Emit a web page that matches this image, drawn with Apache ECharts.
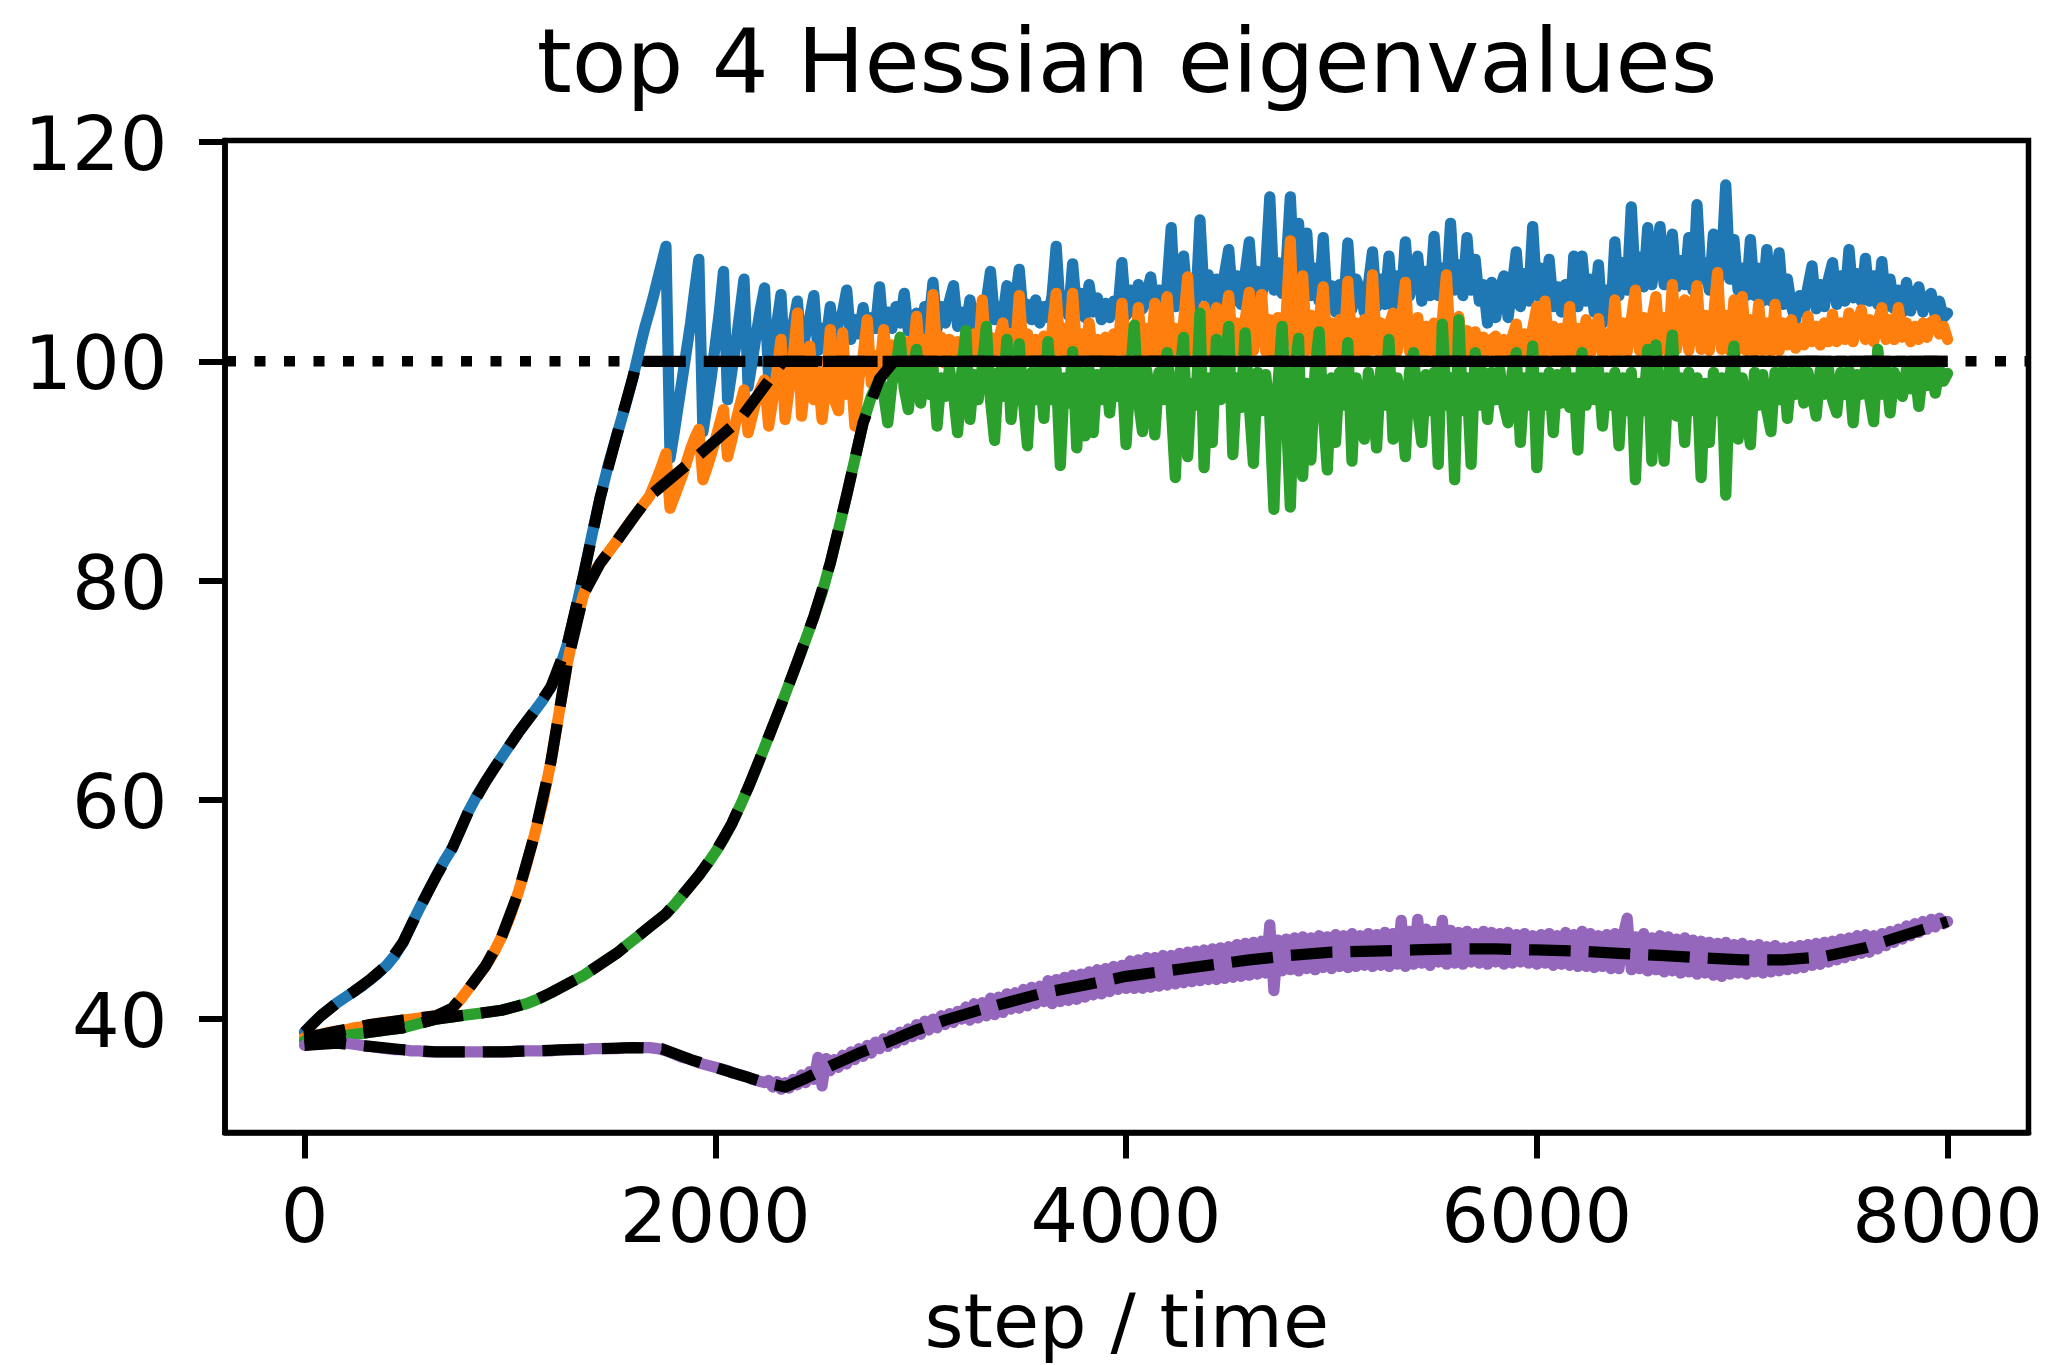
<!DOCTYPE html>
<html>
<head>
<meta charset="utf-8">
<script src="https://cdn.jsdelivr.net/npm/echarts@6/dist/echarts.min.js"></script>
<style>
  html, body { margin: 0; padding: 0; background: #ffffff; }
  #chart { width: 2049px; height: 1365px; }
</style>
</head>
<body>
<div id="chart"></div>
<script>
// Each eigenvalue trace is stored as a smooth "head" sampled every 40 steps from step 0,
// followed by a "tail" sampled every 20 steps once the trace starts to oscillate.
const HEAD_STEP = 40;
const TAIL_STEP = 20;

// Largest eigenvalue: head 0..1600, tail 1620..8000 (rows of 20 samples = 400 steps)
const lambda1Head = [
  38.8, 39.6, 40.3, 40.9, 41.5, 42.0, 42.5, 43.0, 43.6, 44.2,
  44.9, 45.8, 47.0, 48.6, 50.1, 51.6, 53.0, 54.4, 55.6, 57.3,
  59.0, 60.4, 61.6, 62.8, 63.9, 65.0, 66.1, 67.1, 68.1, 69.1,
  70.3, 71.9, 74.2, 77.3, 80.6, 84.2, 87.6, 90.6, 93.2, 95.8,
  98.6
];
const lambda1Tail = [
  100.2, 101.8, 103.3, 104.6, 106.0, 107.5, 109.0, 110.5, 91.2, 93.5, 96.0, 98.5, 101.0, 103.5, 106.5, 109.3, 93.6, 96.0, 98.5, 101.5,
  104.5, 108.2, 96.5, 99.0, 101.5, 104.5, 107.5, 97.7, 100.0, 102.5, 104.8, 106.7, 98.5, 101.0, 103.5, 106.1, 99.3, 101.5, 103.5, 105.5,
  100.5, 102.5, 104.0, 106.0, 101.0, 103.0, 102.0, 105.0, 101.5, 103.5, 104.5, 106.5, 102.0, 103.8, 102.5, 104.9, 102.0, 104.0, 103.0, 106.8,
  102.5, 104.5, 103.0, 105.0, 103.5, 106.2, 102.8, 104.0, 104.4, 102.5, 105.0, 103.5, 107.2, 103.0, 105.0, 103.5, 105.5, 106.9, 103.2, 104.5,
  103.0, 105.6, 103.2, 104.8, 103.5, 105.5, 108.2, 103.8, 105.0, 104.0, 106.9, 103.5, 105.5, 108.4, 104.0, 105.2, 103.8, 105.6, 103.5, 105.0,
  104.0, 106.0, 110.5, 104.5, 106.0, 104.2, 108.9, 104.5, 106.2, 104.0, 107.0, 104.5, 105.8, 103.8, 105.3, 104.0, 105.5, 104.5, 109.0, 104.2,
  106.5, 104.5, 107.0, 104.8, 106.0, 107.7, 104.5, 106.5, 105.0, 107.0, 112.2, 105.0, 107.5, 109.6, 105.5, 107.0, 105.2, 112.9, 106.0, 107.9,
  105.0, 107.5, 105.5, 108.0, 110.2, 105.5, 107.8, 105.2, 108.0, 110.9, 105.8, 108.2, 106.0, 108.5, 115.0, 106.5, 109.0, 106.2, 108.8, 115.0,
  107.0, 112.6, 106.5, 111.7, 106.0, 108.5, 105.5, 111.3, 105.0, 106.9, 104.5, 107.0, 105.0, 110.8, 104.8, 107.5, 106.5, 104.5, 107.0, 110.0,
  105.0, 107.5, 105.2, 109.6, 105.0, 107.8, 105.5, 110.9, 106.0, 108.0, 109.6, 105.5, 108.2, 106.0, 111.4, 106.0, 108.5, 106.2, 112.6, 106.5,
  108.8, 106.0, 111.3, 106.5, 109.3, 105.5, 107.0, 103.5, 107.2, 104.0, 106.5, 107.8, 104.0, 106.8, 110.0, 105.0, 108.0, 105.5, 112.3, 106.0,
  108.5, 105.5, 109.3, 105.0, 106.8, 104.5, 107.0, 103.4, 109.6, 105.0, 109.6, 105.5, 107.5, 104.5, 108.8, 103.5, 106.5, 104.0, 110.9, 106.0,
  109.0, 106.5, 114.1, 107.0, 109.5, 106.8, 112.2, 107.0, 109.5, 112.3, 107.0, 109.0, 111.6, 106.8, 109.2, 107.0, 111.3, 106.5, 114.3, 107.5,
  109.0, 106.5, 111.6, 107.0, 109.0, 116.1, 107.5, 111.1, 106.5, 108.5, 106.0, 111.1, 106.0, 108.5, 105.5, 110.2, 105.5, 107.5, 109.9, 105.2,
  107.5, 105.0, 103.8, 106.0, 104.5, 106.8, 108.7, 104.8, 107.0, 105.0, 107.5, 109.0, 105.2, 107.8, 105.5, 110.2, 105.8, 108.0, 105.5, 109.4,
  105.5, 107.8, 105.2, 109.1, 105.0, 107.5, 104.8, 106.5, 104.5, 107.2, 104.6, 106.0, 106.8, 104.5, 105.8, 106.2, 104.2, 105.5, 104.0, 104.4
];

// Second eigenvalue: head 0..1600, tail 1620..8000
const lambda2Head = [
  38.3, 38.5, 38.6, 38.8, 38.9, 39.0, 39.2, 39.3, 39.5, 39.6,
  39.7, 39.8, 39.9, 40.0, 40.1, 40.2, 40.3, 40.5, 41.0, 41.8,
  42.8, 43.8, 44.8, 46.0, 47.5, 49.3, 51.5, 54.0, 56.8, 59.8,
  63.5, 68.0, 72.5, 76.0, 78.8, 80.5, 81.6, 82.6, 83.6, 84.7,
  85.7
];
const lambda2Tail = [
  86.2, 86.7, 87.2, 87.7, 88.6, 89.5, 90.5, 91.6, 86.6, 87.6, 88.6, 89.6, 90.8, 92.0, 93.0, 93.8, 89.2, 90.3, 91.5, 92.8,
  94.2, 95.6, 91.3, 92.8, 94.5, 96.0, 97.4, 93.5, 95.0, 96.5, 97.5, 98.3, 94.1, 96.5, 99.0, 102.0, 94.7, 97.5, 100.5, 104.4,
  95.0, 98.5, 101.4, 96.5, 99.0, 94.7, 98.0, 102.9, 96.5, 95.5, 102.6, 97.0, 99.5, 94.1, 98.5, 100.5, 103.8, 98.0, 100.5, 99.0,
  102.9, 99.5, 101.5, 100.0, 102.0, 99.6, 101.8, 100.2, 104.1, 99.8, 102.0, 100.0, 106.1, 100.2, 102.2, 99.8, 102.0, 100.5, 101.8, 99.8,
  102.0, 100.0, 102.5, 100.2, 105.6, 100.0, 102.2, 100.5, 102.0, 103.5, 100.0, 102.5, 100.3, 106.0, 100.5, 102.5, 100.2, 102.0, 100.0, 102.3,
  100.2, 102.8, 106.2, 100.5, 103.0, 100.5, 106.2, 100.8, 102.5, 100.5, 103.5, 100.2, 102.0, 100.0, 102.2, 100.5, 102.5, 100.8, 105.3, 100.5,
  102.8, 100.5, 104.9, 100.8, 103.0, 100.6, 105.3, 100.9, 103.2, 105.9, 100.8, 103.0, 100.6, 103.5, 107.7, 100.8, 103.0, 100.9, 105.0, 100.7,
  103.2, 104.9, 100.8, 103.5, 106.0, 100.9, 103.5, 100.7, 103.8, 106.3, 101.0, 103.5, 106.1, 100.9, 103.8, 100.8, 104.0, 101.0, 104.2, 111.0,
  100.8, 104.0, 107.8, 101.0, 104.2, 100.8, 103.8, 106.8, 100.8, 103.5, 100.6, 103.8, 100.7, 107.3, 100.9, 103.5, 100.7, 103.8, 100.9, 107.9,
  101.0, 103.5, 100.7, 103.2, 104.4, 100.9, 103.5, 107.2, 100.9, 103.0, 104.0, 100.7, 103.2, 100.6, 103.5, 100.9, 103.8, 107.9, 100.9, 103.5,
  104.1, 100.7, 102.8, 100.5, 102.7, 100.4, 102.2, 100.6, 102.0, 102.3, 100.4, 102.0, 100.6, 102.2, 103.4, 100.6, 102.5, 100.7, 103.0, 105.0,
  100.7, 105.5, 100.8, 103.2, 100.6, 103.0, 100.8, 105.0, 100.9, 103.0, 100.8, 103.8, 100.6, 102.8, 103.9, 100.5, 102.5, 100.7, 105.6, 100.9,
  103.5, 100.9, 103.8, 106.5, 101.0, 104.0, 100.9, 103.8, 105.9, 101.0, 104.0, 100.9, 107.0, 101.1, 104.0, 105.6, 101.0, 104.0, 106.9, 101.1,
  104.2, 101.0, 104.0, 108.1, 101.1, 104.2, 101.0, 105.6, 101.1, 105.9, 101.0, 103.8, 100.9, 105.2, 101.0, 103.5, 100.9, 105.2, 101.0, 103.5,
  101.5, 103.8, 101.2, 103.0, 101.5, 104.1, 101.8, 103.2, 101.5, 103.5, 101.8, 104.3, 101.8, 103.5, 102.0, 104.4, 101.8, 103.5, 104.7, 102.0,
  103.8, 101.8, 103.5, 104.9, 102.0, 103.8, 102.0, 104.9, 102.2, 103.5, 101.8, 103.2, 102.0, 103.5, 102.2, 103.6, 103.8, 102.5, 103.2, 102.0
];

// Third eigenvalue: head 0..2800, tail 2820..8000
const lambda3Head = [
  38.0, 38.1, 38.2, 38.3, 38.4, 38.5, 38.6, 38.7, 38.8, 38.9,
  39.0, 39.1, 39.2, 39.4, 39.6, 39.8, 40.0, 40.1, 40.2, 40.3,
  40.4, 40.5, 40.6, 40.7, 40.8, 41.0, 41.2, 41.4, 41.7, 42.0,
  42.4, 42.8, 43.2, 43.6, 44.0, 44.5, 45.0, 45.5, 46.0, 46.6,
  47.2, 47.8, 48.4, 49.0, 49.6, 50.4, 51.3, 52.2, 53.1, 54.1,
  55.2, 56.4, 57.8, 59.4, 61.1, 62.9, 64.8, 66.7, 68.6, 70.6,
  72.6, 74.6, 76.7, 78.9, 81.6, 84.6, 87.8, 91.1, 94.4, 96.8,
  98.4
];
const lambda3Tail = [
  97.0, 94.4, 98.0, 99.5, 102.2, 97.5, 95.6, 99.0, 101.1, 96.2, 99.2, 97.0, 99.5, 94.1, 98.5, 96.8, 99.3, 97.0, 93.5, 99.0,
  102.8, 94.7, 98.8, 96.5, 99.5, 103.2, 96.5, 92.8, 99.0, 96.8, 102.0, 94.7, 98.5, 101.6, 96.5, 92.3, 99.0, 96.5, 99.5, 94.8,
  101.8, 96.5, 99.2, 90.5, 98.5, 96.2, 100.9, 92.1, 99.0, 93.2, 99.3, 93.5, 98.8, 96.5, 99.5, 95.3, 99.0, 96.8, 99.3, 92.4,
  98.5, 103.3, 96.5, 93.6, 99.2, 96.8, 93.3, 99.0, 96.5, 100.8, 96.0, 89.4, 98.5, 102.2, 91.3, 98.0, 96.0, 104.4, 90.3, 98.5,
  92.6, 102.0, 96.5, 99.0, 103.2, 91.5, 98.5, 95.8, 102.6, 96.0, 90.7, 99.0, 95.5, 98.8, 95.0, 86.5, 98.0, 103.2, 95.5, 86.7,
  98.5, 102.1, 89.5, 98.0, 91.0, 99.0, 102.7, 95.5, 90.1, 98.5, 92.6, 99.0, 96.0, 101.7, 90.9, 98.5, 96.0, 92.9, 99.0, 96.5,
  92.1, 99.2, 96.0, 102.0, 92.9, 98.5, 96.0, 91.3, 99.0, 100.8, 95.5, 92.6, 98.8, 95.5, 99.0, 90.6, 103.4, 96.0, 98.5, 89.2,
  103.8, 95.5, 98.5, 90.6, 100.8, 96.0, 99.0, 94.7, 99.0, 96.5, 99.2, 96.0, 94.4, 99.0, 100.8, 92.6, 98.5, 96.0, 101.4, 90.3,
  98.5, 96.0, 99.0, 93.5, 98.8, 96.2, 99.2, 95.8, 98.5, 91.9, 100.8, 96.0, 99.0, 96.5, 99.3, 94.1, 98.5, 96.0, 99.0, 92.3,
  98.5, 95.5, 99.0, 89.2, 98.0, 95.5, 101.1, 90.9, 101.5, 95.5, 90.9, 98.5, 102.4, 95.0, 98.5, 92.6, 99.0, 95.5, 98.5, 89.4,
  98.0, 92.6, 99.0, 95.5, 98.5, 87.8, 98.5, 101.4, 92.9, 98.5, 95.5, 92.4, 99.0, 96.0, 98.8, 95.5, 93.6, 99.0, 96.5, 99.2,
  94.8, 99.0, 97.0, 99.3, 96.2, 99.0, 97.2, 95.0, 99.2, 97.0, 99.3, 96.5, 95.3, 99.0, 97.0, 99.2, 94.4, 98.8, 97.0, 99.3,
  96.8, 94.5, 101.1, 97.0, 99.2, 95.3, 99.0, 97.5, 96.8, 99.3, 97.5, 99.4, 95.9, 99.2, 97.8, 99.5, 97.1, 99.3, 98.2, 98.9
];

// Fourth eigenvalue: head 0..2000, tail 2020..8000
const lambda4Head = [
  37.6, 37.7, 37.8, 37.8, 37.8, 37.8, 37.7, 37.6, 37.5, 37.4,
  37.3, 37.2, 37.2, 37.1, 37.1, 37.0, 37.0, 37.0, 37.0, 37.0,
  37.0, 37.0, 37.0, 37.0, 37.0, 37.0, 37.1, 37.1, 37.1, 37.1,
  37.1, 37.2, 37.2, 37.2, 37.2, 37.3, 37.3, 37.3, 37.3, 37.4,
  37.4, 37.4, 37.4, 37.3, 37.1, 36.8, 36.5, 36.3, 36.0, 35.8,
  35.6
];
const lambda4Tail = [
  35.5, 35.4, 35.3, 35.1, 35.0, 34.9, 34.8, 34.7, 34.5, 34.4, 34.3, 34.2, 34.4, 33.8, 34.3, 33.6, 34.2, 33.7, 34.5, 34.0,
  34.9, 34.2, 35.2, 34.5, 36.5, 33.9, 36.4, 35.3, 36.3, 35.6, 36.7, 35.9, 37.0, 36.3, 37.3, 36.6, 37.6, 36.9, 37.9, 37.3,
  38.2, 37.5, 38.5, 37.8, 38.8, 38.1, 39.1, 38.4, 39.5, 38.6, 39.8, 39.0, 40.0, 39.2, 40.3, 39.5, 40.5, 39.7, 40.7, 40.0,
  41.1, 39.9, 41.4, 40.1, 41.5, 40.3, 41.9, 40.4, 42.0, 40.6, 42.3, 40.9, 42.4, 41.0, 42.7, 41.2, 42.9, 41.4, 43.0, 41.6,
  43.5, 41.4, 43.6, 41.6, 43.8, 41.7, 44.0, 41.8, 44.1, 42.0, 44.3, 42.2, 44.5, 42.3, 44.6, 42.5, 44.8, 42.7, 44.9, 42.8,
  45.3, 42.8, 45.4, 42.8, 45.6, 42.9, 45.6, 43.0, 45.8, 43.1, 45.8, 43.2, 46.0, 43.3, 46.1, 43.4, 46.2, 43.5, 46.3, 43.6,
  46.4, 43.6, 46.5, 43.7, 46.6, 43.8, 46.8, 43.9, 46.9, 44.0, 47.0, 44.1, 47.1, 44.2, 48.6, 42.6, 47.2, 44.4, 47.3, 44.5,
  47.4, 44.4, 47.5, 44.6, 47.4, 44.5, 47.6, 44.7, 47.5, 44.6, 47.7, 44.8, 47.6, 44.7, 47.8, 44.8, 47.6, 44.9, 47.8, 44.8,
  47.7, 44.9, 47.9, 44.8, 47.8, 45.0, 49.0, 44.8, 48.0, 45.0, 49.1, 45.1, 48.2, 44.9, 48.0, 45.2, 49.0, 45.0, 48.1, 45.1,
  47.9, 45.0, 48.0, 45.2, 47.8, 45.1, 48.0, 45.0, 47.9, 45.2, 47.8, 45.0, 47.9, 45.1, 47.7, 45.2, 47.8, 45.1, 47.6, 45.0,
  47.7, 45.1, 47.8, 44.9, 47.6, 45.0, 47.9, 44.9, 47.7, 44.8, 48.0, 44.8, 47.8, 44.7, 47.6, 44.8, 47.7, 44.6, 47.8, 44.6,
  47.6, 49.2, 44.5, 47.5, 44.6, 47.8, 44.4, 47.4, 44.5, 47.6, 44.3, 47.5, 44.4, 47.3, 44.2, 47.4, 44.3, 47.2, 44.1, 47.1,
  44.2, 47.0, 44.0, 46.9, 43.9, 47.0, 44.1, 46.8, 44.2, 46.9, 44.1, 46.7, 44.3, 46.8, 44.2, 46.6, 44.3, 46.7, 44.4, 46.5,
  44.5, 46.6, 44.6, 46.7, 44.7, 46.8, 44.9, 46.9, 45.0, 47.0, 45.2, 47.1, 45.4, 47.3, 45.6, 47.4, 45.8, 47.6, 46.0, 47.7,
  46.1, 47.6, 46.4, 47.8, 46.7, 48.0, 47.0, 48.2, 47.3, 48.5, 47.6, 48.7, 47.9, 48.9, 48.2, 49.1, 48.4, 49.2, 48.7, 48.9
];

// Predicted eigenvalue trajectories (capped at the stability threshold)
const fit1Steps = [0, 80, 160, 240, 320, 400, 480, 560, 640, 720, 800, 880, 960, 1040, 1120, 1200, 1280, 1360, 1440, 1520, 1600, 1618, 8000];
const fit1Vals  = [38.8, 40.3, 41.5, 42.5, 43.6, 44.9, 47.0, 50.1, 53.0, 55.6, 59.0, 61.6, 63.9, 66.1, 68.1, 70.3, 74.2, 80.6, 87.6, 93.2, 98.6, 100, 100];

const fit2Steps = [0, 80, 160, 240, 320, 400, 480, 560, 640, 720, 800, 880, 960, 1040, 1120, 1200, 1280, 1360, 1440, 1520, 1600, 1680, 1910, 2120, 2330, 8000];
const fit2Vals  = [38.3, 38.6, 38.9, 39.2, 39.5, 39.7, 39.9, 40.1, 40.3, 41.0, 42.8, 44.8, 47.5, 51.5, 56.8, 63.5, 72.5, 78.8, 81.6, 83.6, 85.7, 87.7, 91.3, 94.7, 100, 100];

const fit3Steps = [0, 80, 160, 240, 320, 400, 480, 560, 640, 720, 800, 880, 960, 1040, 1120, 1200, 1280, 1360, 1440, 1520, 1600, 1680, 1760, 1840, 1920, 2000, 2080, 2160, 2240, 2320, 2400, 2480, 2560, 2640, 2720, 2800, 2870, 8000];
const fit3Vals  = [38.0, 38.2, 38.4, 38.6, 38.8, 39.0, 39.2, 39.6, 40.0, 40.2, 40.4, 40.6, 40.8, 41.2, 41.7, 42.4, 43.2, 44.0, 45.0, 46.0, 47.2, 48.4, 49.6, 51.3, 53.1, 55.2, 57.8, 61.1, 64.8, 68.6, 72.6, 76.7, 81.6, 87.8, 94.4, 98.4, 100, 100];

const fit4Steps = [0, 160, 320, 480, 640, 800, 960, 1120, 1280, 1440, 1600, 1740, 1880, 2000, 2120, 2240, 2340, 2440, 2560, 2700, 2840, 2980, 3120, 3280, 3440, 3600, 3800, 4000, 4200, 4400, 4600, 4800, 5000, 5200, 5400, 5600, 5800, 6000, 6200, 6400, 6600, 6800, 7000, 7200, 7400, 7600, 7700, 7800, 7900, 8000];
const fit4Vals  = [37.6, 37.8, 37.5, 37.2, 37.0, 37.0, 37.0, 37.1, 37.2, 37.3, 37.4, 37.3, 36.3, 35.6, 34.9, 34.2, 33.8, 34.6, 35.7, 36.9, 37.9, 39.0, 39.9, 40.8, 41.6, 42.4, 43.1, 43.9, 44.4, 44.9, 45.4, 45.8, 46.1, 46.2, 46.3, 46.4, 46.4, 46.3, 46.2, 46.0, 45.8, 45.6, 45.4, 45.4, 45.7, 46.5, 47.1, 47.7, 48.3, 48.9];

// Stability threshold 2/eta
const threshold = 100;

// Axis ticks and limits
const xTicks = [0, 2000, 4000, 6000, 8000];
const yTicks = [40, 60, 80, 100, 120];
const xRange = [-387, 8394];
const yRange = [29.65, 120.15];

const FONT = 'DejaVu Sans';
const LW = 11.25;
const COLORS = ['#1f77b4', '#ff7f0e', '#2ca02c', '#9467bd'];

// [step, value] pairs for a head/tail trace
function tracePoints(head, tail) {
  const pts = head.map((v, i) => [i * HEAD_STEP, v]);
  const last = (head.length - 1) * HEAD_STEP;
  tail.forEach((v, j) => pts.push([last + (j + 1) * TAIL_STEP, v]));
  return pts;
}
const pairs = (xs, ys) => xs.map((x, i) => [x, ys[i]]);

const trace = (name, color, head, tail) => ({
  type: 'line', name, data: tracePoints(head, tail),
  symbol: 'none', showSymbol: false, silent: true,
  lineStyle: { color, width: LW, cap: 'round', join: 'round' },
  z: 2
});

const fit = (name, xs, ys) => ({
  type: 'line', name, data: pairs(xs, ys),
  symbol: 'none', showSymbol: false, silent: true,
  lineStyle: { color: '#000000', width: LW, type: [41.6, 18], cap: 'butt', join: 'round' },
  z: 3
});

const chart = echarts.init(document.getElementById('chart'), null, { renderer: 'canvas', width: 2049, height: 1365 });

chart.setOption({
  animation: false,
  backgroundColor: '#ffffff',
  textStyle: { fontFamily: FONT },
  grid: {
    left: 225, right: 20.5, top: 140.5, bottom: 232.5,
    containLabel: false, outerBoundsMode: 'none',
    show: true, borderColor: '#000000', borderWidth: 5.5, backgroundColor: 'transparent'
  },
  graphic: [{
    type: 'text', x: 1127, y: 114,
    style: {
      text: 'top 4 Hessian eigenvalues', font: '89.5px "DejaVu Sans"', fill: '#000000',
      align: 'center', verticalAlign: 'bottom', textAlign: 'center', textVerticalAlign: 'bottom'
    }
  }],
  xAxis: {
    type: 'value', min: xRange[0], max: xRange[1],
    axisLine: { show: true, onZero: false, lineStyle: { color: '#000000', width: 5.5 } },
    axisTick: { show: true, length: 26, customValues: xTicks, lineStyle: { color: '#000000', width: 6 } },
    axisLabel: { customValues: xTicks, fontSize: 75, lineHeight: 75, fontFamily: FONT, color: '#000000', margin: 52.4, formatter: v => String(v) },
    splitLine: { show: false },
    name: 'step / time', nameLocation: 'middle', nameGap: 157.7,
    nameTextStyle: { fontSize: 75, lineHeight: 75, fontFamily: FONT, color: '#000000' }
  },
  yAxis: {
    type: 'value', min: yRange[0], max: yRange[1],
    axisLine: { show: true, onZero: false, lineStyle: { color: '#000000', width: 5.5 } },
    axisTick: { show: true, length: 26, customValues: yTicks, lineStyle: { color: '#000000', width: 6 } },
    axisLabel: { customValues: yTicks, fontSize: 75, lineHeight: 17, verticalAlign: 'top', fontFamily: FONT, color: '#000000', margin: 57.6, formatter: v => String(v) },
    splitLine: { show: false }
  },
  series: [
    {
      type: 'line', name: 'threshold', data: [[xRange[0], threshold], [xRange[1], threshold]],
      symbol: 'none', silent: true, z: 1,
      lineStyle: { color: '#000000', width: 10.5, type: [11, 18.5], cap: 'butt' }
    },
    trace('lambda1', COLORS[0], lambda1Head, lambda1Tail),
    trace('lambda2', COLORS[1], lambda2Head, lambda2Tail),
    trace('lambda3', COLORS[2], lambda3Head, lambda3Tail),
    trace('lambda4', COLORS[3], lambda4Head, lambda4Tail),
    fit('fit1', fit1Steps, fit1Vals),
    fit('fit2', fit2Steps, fit2Vals),
    fit('fit3', fit3Steps, fit3Vals),
    fit('fit4', fit4Steps, fit4Vals)
  ]
});
</script>
</body>
</html>
